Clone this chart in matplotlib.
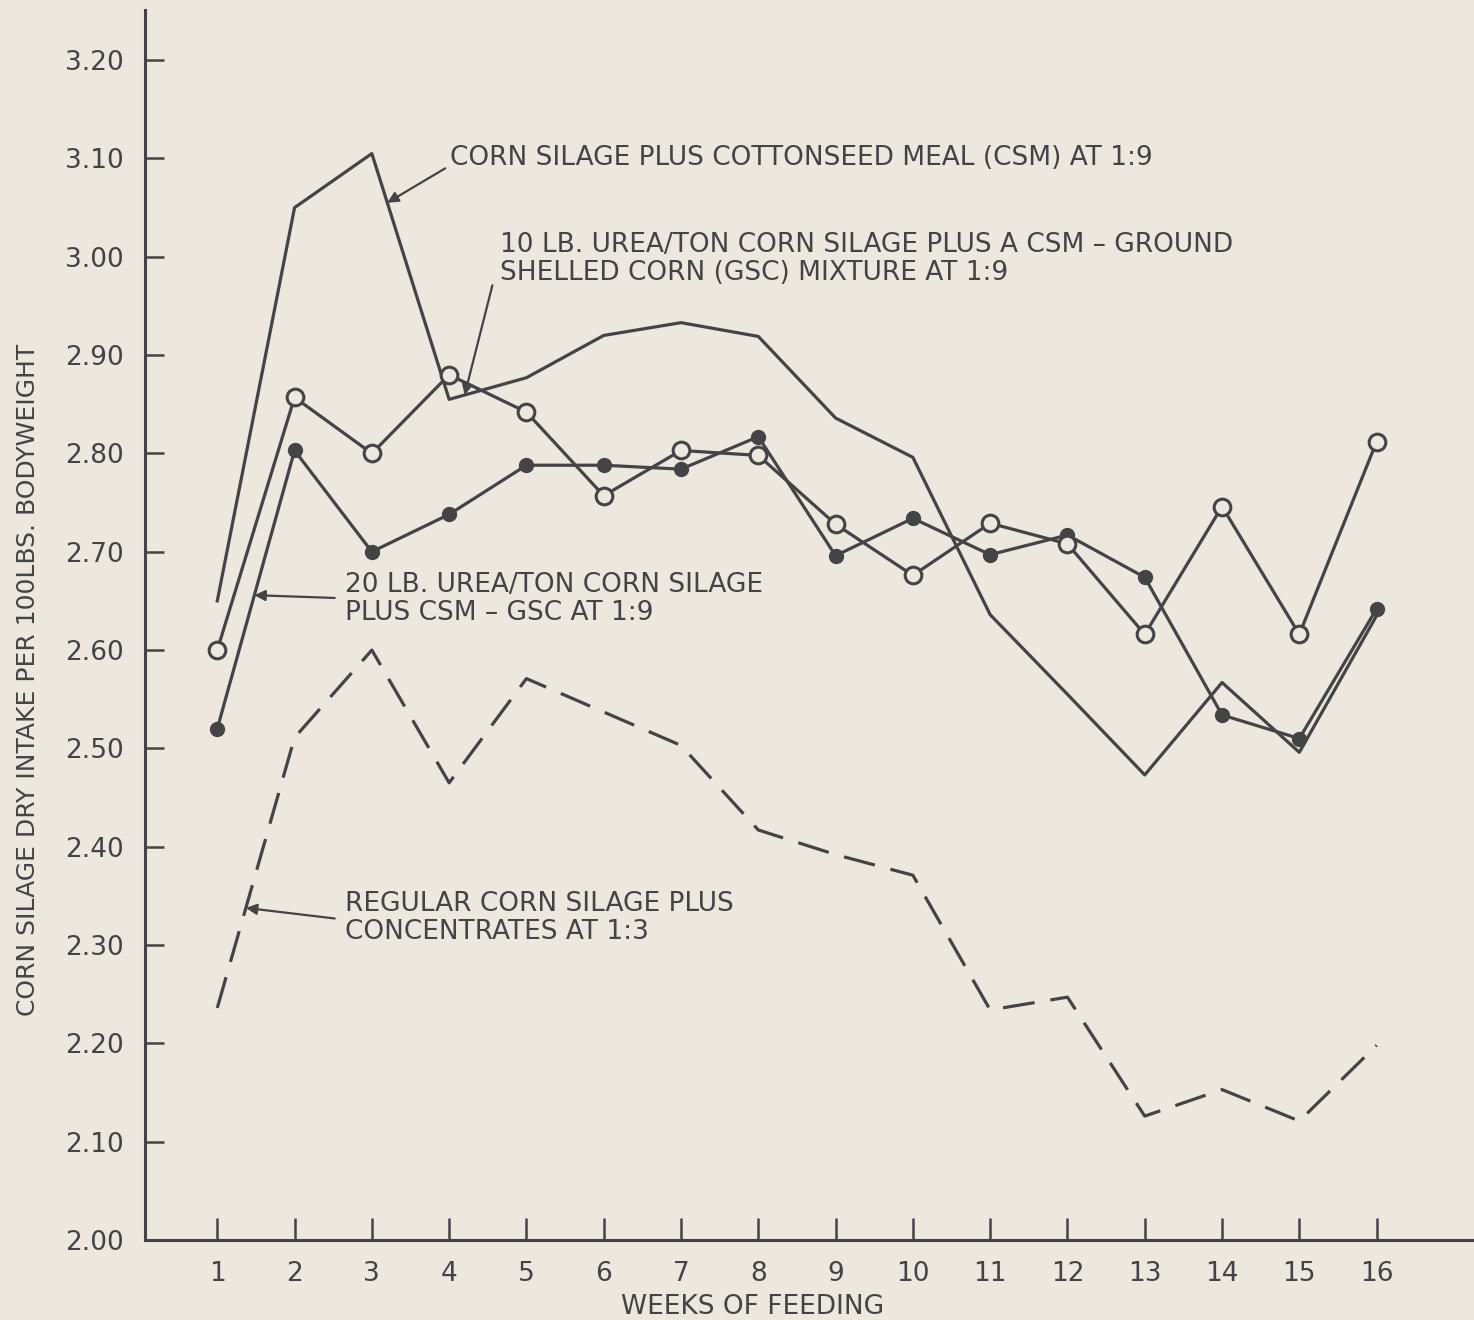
import numpy as np
import matplotlib.pyplot as plt

# weekly corn silage dry matter intake, lb per 100 lb bodyweight
weeks = np.arange(1, 17)
csm_9 = [2.65, 3.05, 3.105, 2.855, 2.877, 2.92, 2.933, 2.919,
         2.836, 2.796, 2.636, 2.555, 2.473, 2.567, 2.496, 2.635]
urea10_gsc = [2.60, 2.857, 2.80, 2.88, 2.842, 2.757, 2.803, 2.798,
              2.728, 2.676, 2.729, 2.708, 2.616, 2.746, 2.616, 2.812]
urea20_gsc = [2.52, 2.803, 2.70, 2.738, 2.788, 2.788, 2.784, 2.817,
              2.696, 2.734, 2.697, 2.717, 2.674, 2.534, 2.510, 2.642]
regular_3 = [2.236, 2.511, 2.60, 2.465, 2.571, 2.537, 2.503, 2.417,
             2.392, 2.371, 2.234, 2.247, 2.126, 2.153, 2.121, 2.198]

y_ticks = np.round(np.arange(2.0, 3.21, 0.1), 2)

ink = "#444444"
paper = "#ece7df"
fs = 19

fig = plt.figure(figsize=(14.74, 13.2), dpi=100, facecolor=paper)
ax = fig.add_axes([145 / 1474, 80 / 1320, 1329 / 1474, 1230 / 1320])
ax.set_facecolor(paper)

lw = 2.3
ax.plot(weeks, csm_9, color=ink, lw=lw, zorder=2)
ax.plot(weeks, regular_3, color=ink, lw=lw, dashes=(10, 5), zorder=2)
ax.plot(weeks, urea20_gsc, color=ink, lw=lw, marker="o", ms=10,
        mfc=ink, mec=ink, zorder=3)
ax.plot(weeks, urea10_gsc, color=ink, lw=lw, marker="o", ms=12,
        mfc=paper, mec=ink, mew=2.2, zorder=4)

ax.set_xlim(0.065, 17.26)
ax.set_ylim(2.0, 3.251)

for side in ("top", "right"):
    ax.spines[side].set_visible(False)
for side in ("left", "bottom"):
    ax.spines[side].set_color(ink)
    ax.spines[side].set_linewidth(2.2)

ax.set_xticks(weeks)
ax.set_yticks(y_ticks)
ax.set_yticklabels([f"{v:.2f}" for v in y_ticks])
ax.tick_params(axis="x", direction="in", length=16, width=1.8, color=ink,
               pad=15, labelsize=fs, labelcolor=ink)
ax.tick_params(axis="y", direction="in", length=14, width=1.8, color=ink,
               pad=15, labelsize=fs, labelcolor=ink)

ax.set_xlabel("WEEKS OF FEEDING", fontsize=fs, color=ink, va="center")
ax.xaxis.set_label_coords(0.457, -0.0545)
ax.set_ylabel("CORN SILAGE DRY INTAKE PER 100LBS. BODYWEIGHT",
              fontsize=18, color=ink, va="center")
ax.yaxis.set_label_coords(-0.088, 0.455)

arrow = dict(arrowstyle="-|>", color=ink, lw=1.6, mutation_scale=16,
             shrinkA=0, shrinkB=0)


def callout(text, text_xy, tail, x_tip, series):
    # label plus a thin arrow from tail to the curve at x_tip
    tip = (x_tip, np.interp(x_tip, weeks, series))
    ax.text(*text_xy, text, fontsize=fs, color=ink,
            ha="left", va="center", linespacing=1.1)
    ax.annotate("", xy=tip, xytext=tail, arrowprops=arrow)


callout("CORN SILAGE PLUS COTTONSEED MEAL (CSM) AT 1:9",
        (4.01, 3.100), (3.95, 3.09), 3.2, csm_9)
callout("10 LB. UREA/TON CORN SILAGE PLUS A CSM \u2013 GROUND\n"
        "SHELLED CORN (GSC) MIXTURE AT 1:9",
        (4.66, 2.998), (4.56, 2.971), 4.2, csm_9)
callout("20 LB. UREA/TON CORN SILAGE\nPLUS CSM \u2013 GSC AT 1:9",
        (2.65, 2.652), (2.52, 2.653), 1.48, urea20_gsc)
callout("REGULAR CORN SILAGE PLUS\nCONCENTRATES AT 1:3",
        (2.65, 2.328), (2.52, 2.327), 1.37, regular_3)

fig.savefig("out.png", dpi=100, facecolor=paper)
